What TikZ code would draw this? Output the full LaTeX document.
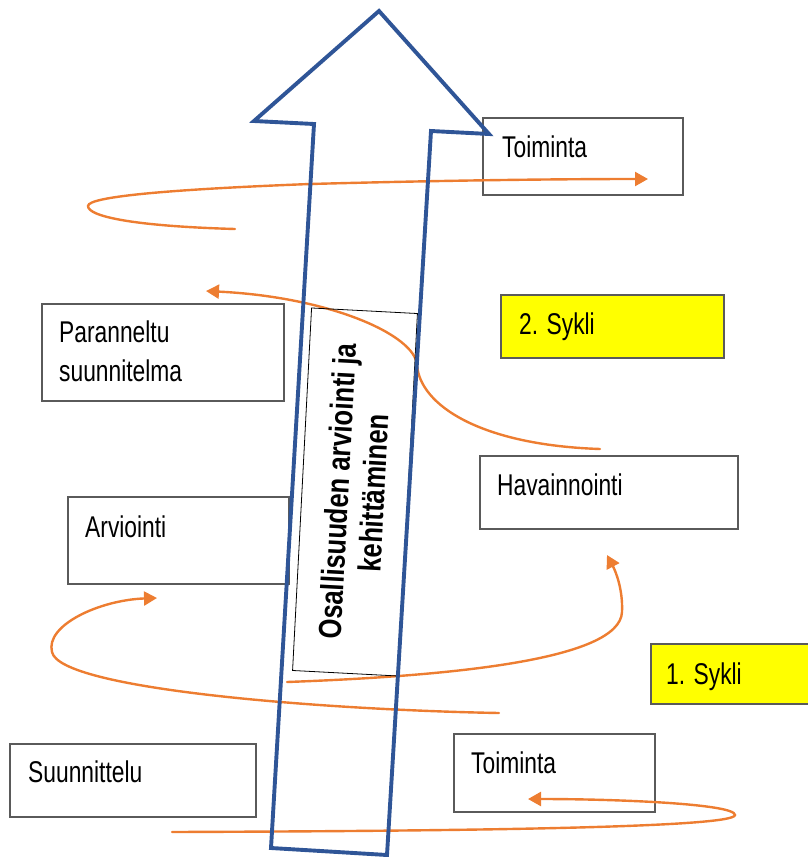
\documentclass[tikz,border=0pt]{standalone}
\usepackage{fontspec}
\setmainfont{Liberation Sans}
\newfontfamily\narfont[FakeStretch=0.76]{Liberation Sans}
\newfontfamily\rotfont[FakeStretch=0.8]{Liberation Sans}
\usetikzlibrary{arrows.meta,calc}
\definecolor{arrowblue}{RGB}{47,85,151}
\definecolor{cycorange}{RGB}{237,125,49}
\definecolor{boxgray}{RGB}{90,90,90}
\definecolor{sykliyellow}{RGB}{255,255,0}
\tikzset{
  box/.style={draw=boxgray, line width=1.7pt, anchor=north west, inner sep=0pt},
  yellowbox/.style={box, fill=sykliyellow},
  lbl/.style={anchor=base west, inner sep=0pt, font=\narfont\fontsize{30}{39}\selectfont, align=left},
  cyc/.style={draw=cycorange, line width=2.4pt, line cap=round},
  cycarrow/.style={cyc, -{Triangle[length=13pt,width=14pt]}},
  bigarrow/.style={draw=arrowblue, line width=3.9pt, line join=miter},
}
\begin{document}
\begin{tikzpicture}[x=1pt,y=-1pt]
\useasboundingbox (0,0) rectangle (807,857);
% boxes
\node[box, minimum width=200, minimum height=77] (toim2) at (482,117) {};
\node[lbl] (toim2t) at ($(toim2.north west)+(20,40)$) {Toiminta};
\node[box, minimum width=242, minimum height=97] (paran) at (41,303) {};
\node[lbl] (parant) at ($(paran.north west)+(18,78)$) {Paranneltu\\suunnitelma};
\node[yellowbox, minimum width=223, minimum height=63] (sykli2) at (500,294) {};
\node[lbl] (sykli2t) at ($(sykli2.north west)+(19,40)$) {2. Sykli};
\node[box, minimum width=258, minimum height=73] (hav) at (479,455) {};
\node[lbl] (havt) at ($(hav.north west)+(18,40)$) {Havainnointi};
\node[box, minimum width=221, minimum height=87] (arv) at (67,496) {};
\node[lbl] (arvt) at ($(arv.north west)+(18,41)$) {Arviointi};
\node[yellowbox, minimum width=170, minimum height=60] (sykli1) at (650,643) {};
\node[lbl] (sykli1t) at ($(sykli1.north west)+(16,41)$) {1. Sykli};
\node[box, minimum width=246, minimum height=73] (suun) at (9,743) {};
\node[lbl] (suunt) at ($(suun.north west)+(19,39)$) {Suunnittelu};
\node[box, minimum width=201, minimum height=78] (toim1) at (453,733) {};
\node[lbl] (toim1t) at ($(toim1.north west)+(18,40)$) {Toiminta};
% cycle curves
\draw[cycarrow] (235,229) .. controls (130,226) and (88,216) .. (88,206)
  .. controls (88,196) and (180,189) .. (310,184)
  .. controls (420,181) and (540,179) .. (648,179);
\draw[cycarrow] (600,449) .. controls (480,445) and (420,405) .. (417,365)
  .. controls (415,335) and (330,297) .. (206,291);
\draw[cycarrow] (287,682) .. controls (450,676) and (620,660) .. (622,612)
  .. controls (623,590) and (616,572) .. (607,555);
\draw[cycarrow] (499,713) .. controls (330,710) and (60,690) .. (52,652)
  .. controls (45,625) and (100,600) .. (157,598);
\draw[cycarrow] (172,832) .. controls (450,831) and (735,828) .. (735,815)
  .. controls (735,804) and (620,799) .. (528,799);
% rotated label box
\node[draw=black, line width=0.8pt, rotate=87, minimum width=363, minimum height=106,
  align=center, inner sep=2pt, font=\rotfont\bfseries\fontsize{32}{36}\selectfont] (osal) at (355,492)
  {Osallisuuden arviointi ja\\kehittäminen};
% big arrow
\draw[bigarrow] (379,11) -- (489,134) -- (431,131) -- (387,855) -- (271,848) -- (314,124) -- (254,121) -- cycle;
\end{tikzpicture}
\end{document}
